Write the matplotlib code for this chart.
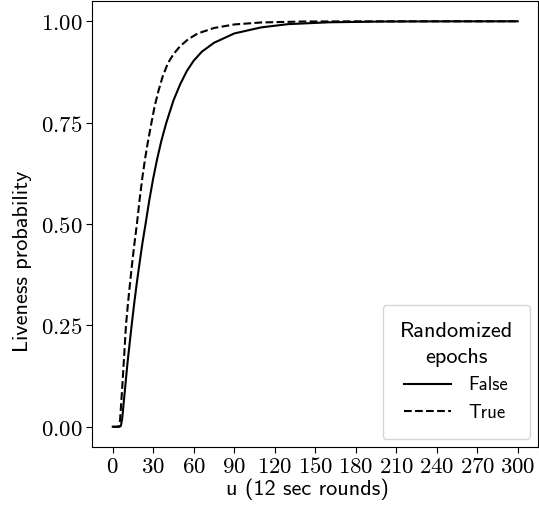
from matplotlib import pyplot as plt
from matplotlib.ticker import FuncFormatter
import numpy as np

plt.rcParams['mathtext.fontset'] = 'cm'
plt.rcParams['axes.unicode_minus'] = False

# u (rounds) vs liveness probability
u_false = [0, 5, 6, 7, 8, 9, 10, 11, 12, 13, 14, 16, 18, 20, 22, 24.3, 27, 30, 33, 36,
           39.7, 45, 50, 55, 60, 66, 75, 90, 110, 130, 160, 200, 250, 300]
p_false = [0, 0, 0.002, 0.02, 0.055, 0.09, 0.125, 0.16, 0.19, 0.22, 0.25, 0.307, 0.359,
           0.407, 0.453, 0.5, 0.557, 0.613, 0.662, 0.705, 0.75, 0.805, 0.845, 0.878, 0.903,
           0.925, 0.947, 0.97, 0.985, 0.993, 0.9975, 0.9994, 0.9999, 1.0]

u_true = [0, 4.5, 5, 5.5, 6, 7, 8, 9, 9.8, 11, 12, 14, 16, 17.9, 20, 22, 24, 26, 28.7,
          31, 34, 37, 40.9, 45, 50, 56, 63, 75, 90, 110, 140, 180, 240, 300]
p_true = [0, 0, 0.005, 0.02, 0.045, 0.095, 0.15, 0.205, 0.25, 0.294, 0.328, 0.392, 0.45,
          0.5, 0.563, 0.616, 0.662, 0.702, 0.75, 0.79, 0.83, 0.864, 0.897, 0.919, 0.939,
          0.956, 0.97, 0.9835, 0.9922, 0.9971, 0.9994, 0.9999, 1.0, 1.0]

x_ticks = np.arange(0, 301, 30)
y_ticks = [0, 0.25, 0.5, 0.75, 1.0]


def draw_plot():
    fig = plt.figure(figsize=(5.39, 5.11), dpi=100)
    ax = fig.add_axes([0.1716, 0.1252, 0.8265, 0.8728])

    ax.plot(u_false, p_false, color='black', linestyle='-', linewidth=1.5, label='False')
    ax.plot(u_true, p_true, color='black', linestyle='--', linewidth=1.5, label='True')

    ax.set_xticks(x_ticks)
    ax.set_yticks(y_ticks)
    ax.xaxis.set_major_formatter(FuncFormatter(lambda v, p: r'$%d$' % v))
    ax.yaxis.set_major_formatter(FuncFormatter(lambda v, p: r'$%.2f$' % v))
    ax.tick_params(labelsize=16.5, length=4, pad=3)
    ax.tick_params(axis='x', pad=1.5)

    ax.set_xlabel('u (12 sec rounds)', fontsize=16, family='cmss10')
    ax.set_ylabel('Liveness probability', fontsize=16, family='cmss10')
    ax.xaxis.set_label_coords(0.483, -0.07)
    ax.yaxis.set_label_coords(-0.136, 0.417)

    leg = ax.legend(title='Randomized\nepochs', loc='lower right',
                    prop={'family': 'cmss10', 'size': 13.5},
                    title_fontproperties={'family': 'cmss10', 'size': 16},
                    handlelength=2.5, handletextpad=0.9, labelspacing=0.5,
                    borderpad=0.9, borderaxespad=0.45)
    leg.get_title().set_multialignment('center')
    leg.get_title().set_linespacing(1.45)

    fig.savefig('out.png', dpi=100)


if __name__ == "__main__":
    draw_plot()
